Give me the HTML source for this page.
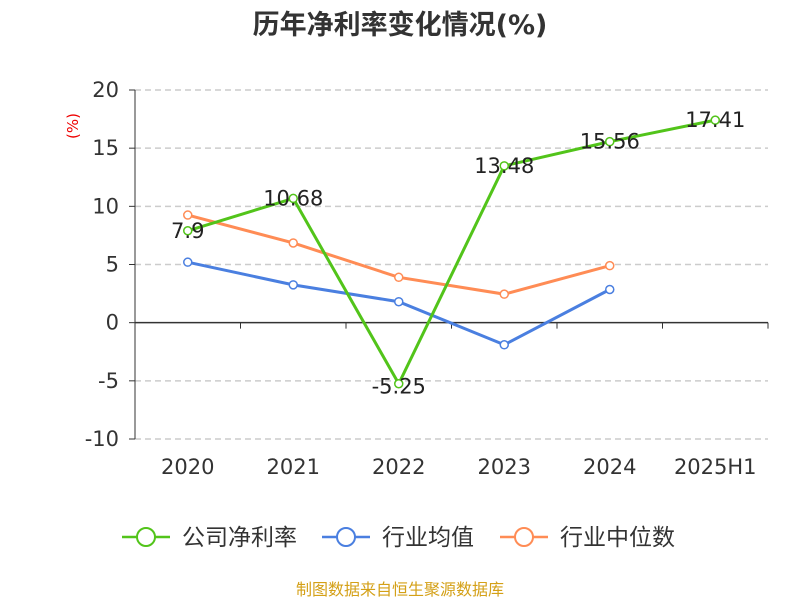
<!DOCTYPE html>
<html><head><meta charset="utf-8"><style>
body{margin:0;background:#fff;}
svg text{font-family:"DejaVu Sans","Noto Sans CJK SC",sans-serif;}
</style></head><body>
<svg id="chart" width="800" height="600" xmlns="http://www.w3.org/2000/svg">
<text x="400" y="34" text-anchor="middle" font-size="27" font-weight="bold" fill="#333">历年净利率变化情况(%)</text>
<text transform="translate(78,126) rotate(-90)" text-anchor="middle" font-size="15" fill="#e00">(%)</text>
<g id="grid"></g><g id="axes"></g><g id="series"></g>
<g>
<g><line x1="122" y1="537" x2="170" y2="537" stroke="#52c41a" stroke-width="2.5"/><circle cx="146" cy="537" r="9" fill="#fff" stroke="#52c41a" stroke-width="2"/><text x="182" y="545" font-size="23" fill="#333">公司净利率</text></g>
<g><line x1="322" y1="537" x2="370" y2="537" stroke="#4a7fe0" stroke-width="2.5"/><circle cx="346" cy="537" r="9" fill="#fff" stroke="#4a7fe0" stroke-width="2"/><text x="382" y="545" font-size="23" fill="#333">行业均值</text></g>
<g><line x1="500" y1="537" x2="548" y2="537" stroke="#ff8c55" stroke-width="2.5"/><circle cx="524" cy="537" r="9" fill="#fff" stroke="#ff8c55" stroke-width="2"/><text x="560" y="545" font-size="23" fill="#333">行业中位数</text></g>
</g>
<text x="400" y="595" text-anchor="middle" font-size="16" fill="#d4a017">制图数据来自恒生聚源数据库</text>
</svg>
<script>
const categories=["2020","2021","2022","2023","2024","2025H1"];
const companyValues=[7.9,10.68,-5.25,13.48,15.56,17.41];
const avgValues=[5.2,3.25,1.8,-1.9,2.85];
const medianValues=[9.25,6.85,3.9,2.45,4.9];
const yTicks=[-10,-5,0,5,10,15,20];
const NS="http://www.w3.org/2000/svg";
const L=135,R=768,T=90,B=439,yMin=-10,yMax=20;
const y=v=>B-(v-yMin)/(yMax-yMin)*(B-T);
const bw=(R-L)/categories.length;
const x=i=>L+bw*(i+0.5);
function mk(p,tag,attrs){const e=document.createElementNS(NS,tag);for(const k in attrs)e.setAttribute(k,attrs[k]);p.appendChild(e);return e;}
const grid=document.getElementById('grid'),axes=document.getElementById('axes'),ser=document.getElementById('series');
yTicks.forEach(v=>{
 if(v!==0){const g=mk(grid,'line',{x1:L,x2:R,y1:y(v),y2:y(v),stroke:'#ccc','stroke-dasharray':'6,4','stroke-width':1.5});
 
 }
 mk(axes,'line',{x1:L-6,x2:L,y1:y(v),y2:y(v),stroke:'#333'});
 const t=mk(axes,'text',{x:119,y:y(v)+7,'text-anchor':'end','font-size':21,fill:'#333'});t.textContent=v;
 
 
});
mk(axes,'line',{x1:L,x2:L,y1:T,y2:B,stroke:'#333'});
const xa=mk(axes,'line',{x1:L,x2:R,y1:y(0),y2:y(0),stroke:'#333','stroke-width':1.5});


for(let i=0;i<=categories.length;i++)mk(axes,'line',{x1:L+bw*i,x2:L+bw*i,y1:y(0),y2:y(0)+6,stroke:'#333'});
categories.forEach((c,i)=>{const t=mk(axes,'text',{x:x(i),y:474,'text-anchor':'middle','font-size':21,fill:'#333'});t.textContent=c;
 
 });
function series(vals,color,name,labels){
 const g=mk(ser,'g',{});
 
 
 mk(g,'polyline',{points:vals.map((v,i)=>x(i)+','+y(v)).join(' '),fill:'none',stroke:color,'stroke-width':3});
 vals.forEach((v,i)=>{const c=mk(g,'circle',{cx:x(i),cy:y(v),r:4,fill:'#fff',stroke:color,'stroke-width':1.5});
  
  
  if(labels){const t=mk(g,'text',{x:x(i),y:v<0?y(v)+10:y(v)+7,'text-anchor':'middle','font-size':21,fill:'#222'});t.textContent=v;
  
  }
 });
}
series(avgValues,'#4a7fe0','series-industry-avg',false);
series(medianValues,'#ff8c55','series-industry-median',false);
series(companyValues,'#52c41a','series-company',true);
</script>
</body></html>
